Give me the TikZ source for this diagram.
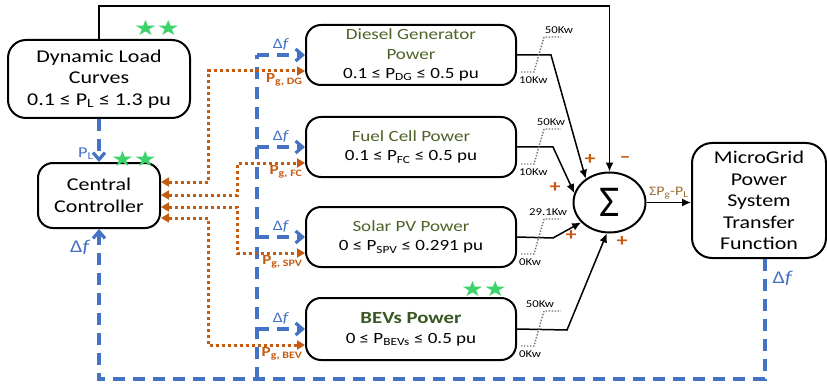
\documentclass[tikz,border=0pt]{standalone}
\usepackage{fontspec}
\setmainfont{Carlito}[FakeStretch=1.22]
\newfontfamily\sigmafont{Carlito}
\newfontfamily\starfont{DejaVu Sans}[FakeStretch=1.22]
\usetikzlibrary{arrows.meta,shapes.geometric}

\definecolor{fbblue}{HTML}{4472C4}
\definecolor{pgorange}{HTML}{C55A11}
\definecolor{srcgreen}{HTML}{4F6228}
\definecolor{bevgreen}{HTML}{385723}
\definecolor{stargreen}{HTML}{3CD36A}
\definecolor{sumbrown}{HTML}{9C6B30}
\definecolor{limgray}{HTML}{707070}

\newcommand{\dfq}{Δ\textit{f}}

\tikzset{
  block/.style={draw, rounded corners=15pt, line width=2pt, align=center, inner sep=0pt,
    font=\fontsize{18}{21.5}\selectfont},
  srcbox/.style={block, minimum width=210pt, minimum height=60pt,
    font=\fontsize{15.6}{19.5}\selectfont},
  sig/.style={line width=1.5pt, -{Latex[length=9pt,width=8pt]}},
  fb/.style={fbblue, line width=3.2pt, dash pattern=on 12pt off 8pt},
  fbarrow/.style={fb, -{Straight Barb[length=7pt,width=12pt]}},
  pg/.style={pgorange, line width=3pt, dash pattern=on 3pt off 3pt,
    {Triangle[length=8pt,width=9pt]}-{Triangle[length=8pt,width=9pt]}},
  lim/.style={limgray, line width=1.4pt, dash pattern=on 1.4pt off 1.6pt},
  kw/.style={font=\fontsize{10.5}{12}\selectfont, inner sep=0pt},
  sign/.style={pgorange, font=\bfseries\fontsize{18}{18}\selectfont, inner sep=0pt},
  df/.style={fbblue, font=\fontsize{14.5}{14.5}\selectfont, inner sep=1pt},
  dfbig/.style={fbblue, font=\fontsize{18}{18}\selectfont, inner sep=1pt},
  pglbl/.style={pgorange, font=\bfseries\fontsize{14}{14}\selectfont, inner sep=1pt},
  stars/.style={stargreen, font=\starfont\fontsize{21}{21}\selectfont, inner sep=0pt},
}

\begin{document}
\begin{tikzpicture}[x=1pt,y=-1pt]
\useasboundingbox (0,0) rectangle (827,385);

% blocks
\node[block, minimum width=182pt, minimum height=78pt, rounded corners=18pt] (load) at (99,79)
  {Dynamic Load\\Curves\\0.1 ≤ P\textsubscript{L} ≤ 1.3 pu};
\node[block, minimum width=122pt, minimum height=65pt] (ctrl) at (99,195.5) {Central\\Controller};
\node[srcbox] (dg) at (411,55)
  {\textcolor{srcgreen}{Diesel Generator}\\\textcolor{srcgreen}{Power}\\0.1 ≤ P\textsubscript{DG} ≤ 0.5 pu};
\node[srcbox] (fc) at (411,147)
  {\textcolor{srcgreen}{Fuel Cell Power}\\0.1 ≤ P\textsubscript{FC} ≤ 0.5 pu};
\node[srcbox] (spv) at (411,237)
  {\textcolor{srcgreen}{Solar PV Power}\\0 ≤ P\textsubscript{SPV} ≤ 0.291 pu};
\node[srcbox, minimum height=62pt] (bev) at (411,329)
  {\textcolor{bevgreen}{\bfseries\fontsize{17}{20}\selectfont BEVs Power}\\0 ≤ P\textsubscript{BEVs} ≤ 0.5 pu};
\node[draw, ellipse, minimum width=72pt, minimum height=60pt, line width=2pt, inner sep=0pt] (sum)
  at (609.5,202.5) {\sigmafont\fontsize{44}{44}\selectfont Σ};
\node[block, minimum width=134pt, minimum height=115pt, rounded corners=20pt] (mg) at (759,200.5)
  {MicroGrid\\Power\\System\\Transfer\\Function};

% stars
\node[stars] (loadstars) at (157,28) {★★};
\node[stars] (ctrlstars) at (134,159) {★★};
\node[stars] (bevstars) at (484,289) {★★};

% load signal into the summer
\draw[sig] (load.north) -- ++(0,-33) -| (sum.north);

% source outputs into the summer
\draw[sig] (dg.east) -- (551,55) -- (sum.135);
\draw[sig] (fc.east) -- (553,147) -- (sum.165);
\draw[sig] (spv.east) -- (553,238) -- (sum.215);
\draw[sig] (bev.east) -- (567,330) -- (sum.265);
\draw[sig] (sum.east) -- (sum.east -| mg.west)
  node[midway, above=3pt, sumbrown, font=\fontsize{13}{13}\selectfont, inner sep=0pt] {ΣP\textsubscript{g}-P\textsubscript{L}};

% signs
\node[sign] (sdg) at (590,160) {+};
\node[sign] (spl) at (625,160) {–};
\node[sign] (sfc) at (555,188) {+};
\node[sign] (sspv) at (571,236) {+};
\node[sign] (sbev) at (622,242) {+};

% limits
\foreach \src/\hi/\lo/\hx in {dg/50Kw/10Kw/42, fc/50Kw/10Kw/34, spv/29.1Kw/0Kw/31, bev/50Kw/0Kw/23} {
  \draw[lim] ([xshift=4pt,yshift=-17pt]\src.east) -- ++(13,0) -- ++(10,-35) -- ++(17,0);
  \node[kw] at ([xshift=\hx pt,yshift=25pt]\src.east) {\hi};
  \node[kw, anchor=west] at ([xshift=2pt,yshift=-25pt]\src.east) {\lo};
}

% frequency feedback
\coordinate (tap) at (257,379);
\coordinate (fbcorner) at (765,379);
\draw[fb, -{Straight Barb[length=7pt,width=12pt]}] (mg.south -| fbcorner)
  -- node[dfbig, right=5pt, pos=0.16] {\dfq} (fbcorner)
  -- (fbcorner -| ctrl.south)
  -- node[dfbig, left=6pt, pos=0.88] {\dfq} (ctrl.south);
\draw[fb] (tap) -- (dg.west -| tap);
\foreach \src in {dg,fc,spv,bev}
  \draw[fbarrow] (\src.west -| tap) -- node[df, above=2pt] {\dfq} (\src.west);
\draw[fb, -{Straight Barb[length=7pt,width=12pt]}] (load.south) -- node[fbblue, left=4pt, pos=0.8,
  font=\fontsize{15}{15}\selectfont, inner sep=0pt] {P\textsubscript{L}} (ctrl.north);

% generation set points
\draw[pg] ([yshift=13.5pt]ctrl.east) -| (208,71)
  -- node[pglbl, at end, below left] {P\textsubscript{g, DG}} ([yshift=-16pt]dg.west);
\draw[pg] ([yshift=0.5pt]ctrl.east) -| (237,163)
  -- node[pglbl, at end, below left] {P\textsubscript{g, FC}} ([yshift=-16pt]fc.west);
\draw[pg] ([yshift=-11.5pt]ctrl.east) -| (237,253)
  -- node[pglbl, at end, below left] {P\textsubscript{g, SPV}} ([yshift=-16pt]spv.west);
\draw[pg] ([yshift=-22.5pt]ctrl.east) -| (208,345)
  -- node[pglbl, at end, below left] {P\textsubscript{g, BEV}} ([yshift=-16pt]bev.west);
\end{tikzpicture}
\end{document}
